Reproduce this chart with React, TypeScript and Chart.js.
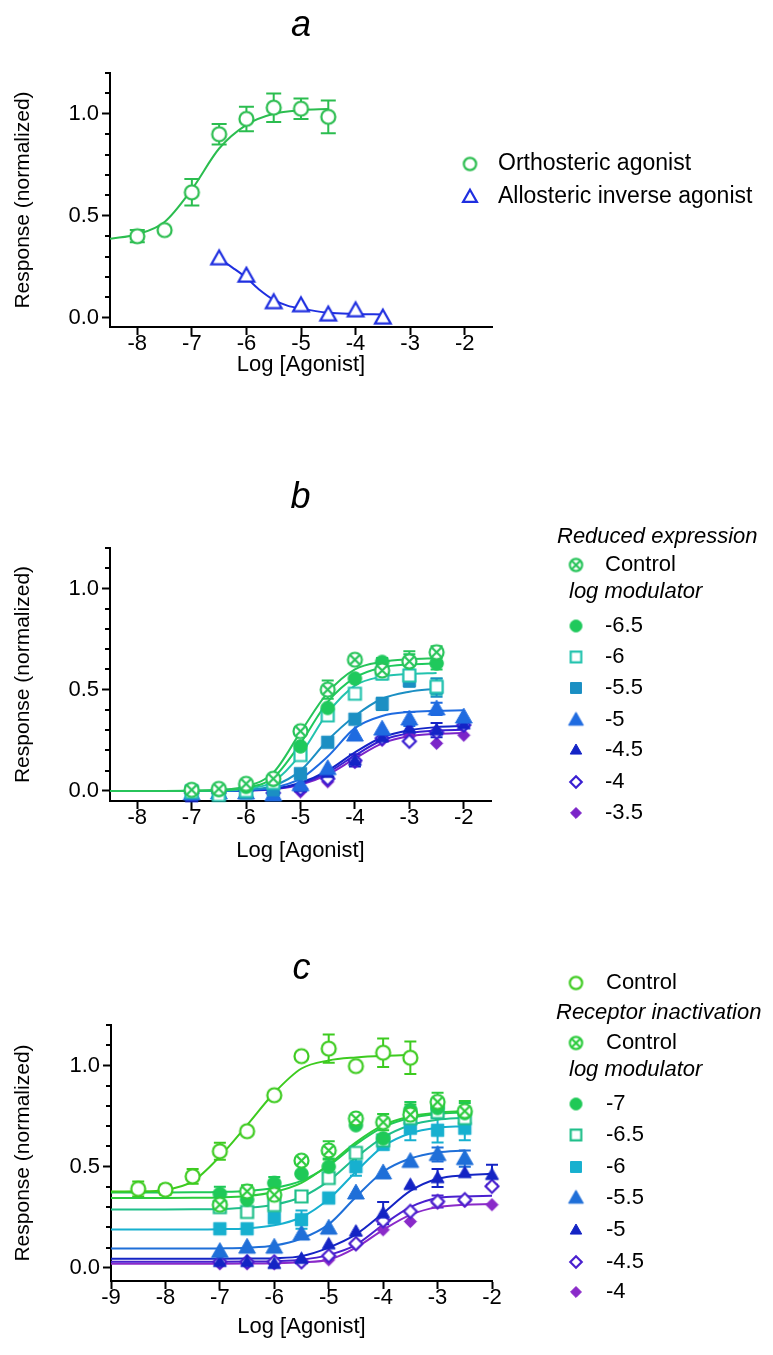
import React, { useEffect, useRef } from 'react';
import { Chart, registerables } from 'chart.js';

Chart.register(...registerables);

const FONT = "'Liberation Sans', Arial, Helvetica, sans-serif";
const W = 773;

// ---------------- Panel a data ----------------
const A_ORTHO_X = [-8, -7.5, -7, -6.5, -6, -5.5, -5, -4.5];
const A_ORTHO_Y = [0.40, 0.43, 0.615, 0.90, 0.975, 1.03, 1.025, 0.985];
const A_ORTHO_ERR = [0.03, 0, 0.065, 0.05, 0.06, 0.07, 0.05, 0.08];
const A_ORTHO_FIT_X = [-8.5, -8, -7.5, -7, -6.5, -6, -5.5, -5, -4.5];
const A_ORTHO_FIT_Y = [0.387, 0.41, 0.47, 0.63, 0.83, 0.946, 1.0, 1.018, 1.023];
const A_ALLO_X = [-6.5, -6, -5.5, -5, -4.5, -4, -3.5];
const A_ALLO_Y = [0.29, 0.205, 0.075, 0.06, 0.015, 0.035, 0.0];
const A_ALLO_FIT_X = [-6.5, -6.25, -6, -5.75, -5.5, -5.25, -5, -4.5, -4, -3.5];
const A_ALLO_FIT_Y = [0.29, 0.245, 0.196, 0.135, 0.088, 0.06, 0.045, 0.025, 0.019, 0.016];

// ---------------- Panel b data ----------------
const B_X = [-7, -6.5, -6, -5.5, -5, -4.5, -4, -3.5, -3, -2.5];
const B_X_LONG = [-7, -6.5, -6, -5.5, -5, -4.5, -4, -3.5, -3, -2.5, -2];
const B_FIT_X = [-8.5, -8, -7.5, -7, -6.5, -6, -5.5, -5, -4.5, -4, -3.5, -3, -2.5];
const B_FIT_X_LONG = [-8.5, -8, -7.5, -7, -6.5, -6, -5.5, -5, -4.5, -4, -3.5, -3, -2.5, -2];

const B_CTRL_Y = [0.005, 0.01, 0.035, 0.06, 0.295, 0.50, 0.648, 0.595, 0.64, 0.685];
const B_CTRL_ERR = [0, 0, 0, 0, 0.02, 0.045, 0, 0.03, 0.05, 0.03];
const B_CTRL_FIT = [0, 0, 0, 0.001, 0.005, 0.022, 0.09, 0.29, 0.485, 0.60, 0.637, 0.65, 0.655];

const B_M65_Y = [0.005, 0.005, 0.02, 0.055, 0.22, 0.41, 0.555, 0.637, 0.635, 0.63];
const B_M65_ERR = [0, 0, 0, 0, 0, 0, 0, 0.02, 0.04, 0.03];
const B_M65_FIT = [0, 0, 0, 0.001, 0.003, 0.015, 0.065, 0.235, 0.44, 0.56, 0.61, 0.625, 0.63];

const B_M6_Y = [-0.005, -0.02, 0.0, 0.04, 0.177, 0.373, 0.48, 0.58, 0.57, 0.515];
const B_M6_ERR = [0, 0, 0, 0, 0, 0, 0, 0.03, 0.03, 0.04];
const B_M6_FIT = [0, 0, 0, 0, 0.002, 0.01, 0.045, 0.18, 0.385, 0.52, 0.565, 0.578, 0.583];

const B_M55_Y = [0.0, -0.015, -0.01, 0.005, 0.085, 0.24, 0.354, 0.43, 0.545, 0.51];
const B_M55_ERR = [0, 0, 0, 0, 0, 0, 0, 0.03, 0.03, 0.045];
const B_M55_FIT = [0, 0, 0, 0, 0.001, 0.006, 0.025, 0.10, 0.25, 0.37, 0.455, 0.49, 0.505];

const B_M5_Y = [-0.015, -0.01, -0.01, -0.02, 0.03, 0.11, 0.276, 0.305, 0.355, 0.405, 0.365];
const B_M5_ERR = [0, 0, 0, 0, 0, 0, 0, 0, 0.035, 0.03, 0];
const B_M5_FIT = [0, 0, 0, 0, 0, 0.003, 0.015, 0.06, 0.17, 0.31, 0.37, 0.39, 0.396, 0.398];

const B_M45_Y = [-0.03, -0.01, 0.0, -0.02, 0.02, 0.09, 0.15, 0.265, 0.31, 0.30, 0.33];
const B_M45_ERR = [0, 0, 0, 0, 0, 0, 0.03, 0, 0.03, 0.035, 0];
const B_M45_FIT = [0, 0, 0, 0, 0, 0.002, 0.01, 0.04, 0.10, 0.19, 0.265, 0.30, 0.315, 0.32];

const B_M4_Y = [-0.01, -0.01, 0.0, -0.01, 0.01, 0.06, 0.15, 0.26, 0.245, 0.29, 0.325];
const B_M4_FIT = [0, 0, 0, 0, 0, 0.002, 0.009, 0.035, 0.09, 0.175, 0.25, 0.285, 0.298, 0.302];

const B_M35_Y = [-0.01, -0.01, -0.005, -0.01, -0.005, 0.045, 0.14, 0.25, 0.27, 0.235, 0.275];
const B_M35_FIT = [0, 0, 0, 0, 0, 0.002, 0.008, 0.03, 0.08, 0.16, 0.235, 0.27, 0.282, 0.286];

// ---------------- Panel c data ----------------
const C_CTRL_X = [-8.5, -8, -7.5, -7, -6.5, -6, -5.5, -5, -4.5, -4, -3.5];
const C_CTRL_Y = [0.39, 0.386, 0.452, 0.576, 0.675, 0.853, 1.046, 1.083, 0.997, 1.063, 1.038];
const C_CTRL_ERR = [0.037, 0.025, 0.037, 0.042, 0, 0, 0, 0.07, 0, 0.07, 0.08];
const C_CTRL_FIT_X = [-9, -8.5, -8, -7.5, -7, -6.5, -6, -5.5, -5, -4.5, -4, -3.5];
const C_CTRL_FIT = [0.377, 0.378, 0.385, 0.427, 0.55, 0.705, 0.865, 0.985, 1.025, 1.04, 1.048, 1.052];

const C_X = [-7, -6.5, -6, -5.5, -5, -4.5, -4, -3.5, -3, -2.5];
const C_X_LONG = [-7, -6.5, -6, -5.5, -5, -4.5, -4, -3.5, -3, -2.5, -2];
const C_FIT_X = [-9, -8.5, -8, -7.5, -7, -6.5, -6, -5.5, -5, -4.5, -4, -3.5, -3, -2.5];
const C_FIT_X_LONG = [-9, -8.5, -8, -7.5, -7, -6.5, -6, -5.5, -5, -4.5, -4, -3.5, -3, -2.5, -2];

const C_RI_Y = [0.312, 0.378, 0.361, 0.53, 0.58, 0.738, 0.72, 0.757, 0.82, 0.775];
const C_RI_ERR = [0, 0.03, 0.03, 0, 0.045, 0, 0.04, 0.05, 0.045, 0.05];
const C_RI_FIT = [0.345, 0.345, 0.345, 0.346, 0.348, 0.355, 0.375, 0.42, 0.51, 0.62, 0.705, 0.748, 0.767, 0.775];

const C_M7_Y = [0.366, 0.337, 0.419, 0.465, 0.50, 0.705, 0.64, 0.78, 0.79, 0.765];
const C_M7_ERR = [0.035, 0, 0.03, 0, 0.04, 0, 0, 0.04, 0, 0.05];
const C_M7_FIT = [0.372, 0.372, 0.372, 0.373, 0.375, 0.38, 0.395, 0.43, 0.505, 0.61, 0.695, 0.74, 0.76, 0.768];

const C_M65_Y = [0.30, 0.276, 0.31, 0.353, 0.444, 0.568, 0.63, 0.74, 0.77, 0.74];
const C_M65_ERR = [0, 0, 0, 0, 0, 0, 0, 0.03, 0.03, 0.03];
const C_M65_FIT = [0.288, 0.288, 0.288, 0.289, 0.291, 0.297, 0.312, 0.35, 0.43, 0.545, 0.645, 0.705, 0.732, 0.742];

const C_M6_Y = [0.193, 0.193, 0.246, 0.238, 0.345, 0.50, 0.61, 0.69, 0.68, 0.69];
const C_M6_ERR = [0, 0, 0, 0.045, 0, 0.045, 0, 0.06, 0.06, 0.06];
const C_M6_FIT = [0.19, 0.19, 0.19, 0.19, 0.191, 0.195, 0.21, 0.25, 0.34, 0.475, 0.60, 0.665, 0.692, 0.70];

const C_M55_Y = [0.081, 0.102, 0.102, 0.167, 0.196, 0.37, 0.469, 0.526, 0.56, 0.54];
const C_M55_ERR = [0, 0, 0, 0, 0, 0, 0, 0, 0.035, 0.04];
const C_M55_FIT = [0.095, 0.095, 0.095, 0.095, 0.096, 0.099, 0.11, 0.145, 0.215, 0.35, 0.475, 0.54, 0.57, 0.58];

const C_M5_Y = [0.03, 0.03, 0.02, 0.045, 0.117, 0.18, 0.27, 0.41, 0.444, 0.469, 0.46];
const C_M5_ERR = [0, 0, 0, 0, 0, 0, 0.055, 0, 0.045, 0, 0.05];
const C_M5_FIT = [0.045, 0.045, 0.045, 0.045, 0.045, 0.046, 0.048, 0.058, 0.10, 0.165, 0.27, 0.38, 0.44, 0.458, 0.465];

const C_M45_Y = [0.03, 0.03, 0.03, 0.03, 0.06, 0.12, 0.233, 0.279, 0.328, 0.337, 0.403];
const C_M45_ERR = [0, 0, 0, 0, 0, 0, 0, 0, 0.03, 0, 0];
const C_M45_FIT = [0.03, 0.03, 0.03, 0.03, 0.03, 0.031, 0.033, 0.04, 0.064, 0.114, 0.213, 0.30, 0.345, 0.353, 0.356];

const C_M4_Y = [0.02, 0.02, 0.02, 0.03, 0.04, 0.114, 0.188, 0.229, 0.32, 0.328, 0.312];
const C_M4_FIT = [0.02, 0.02, 0.02, 0.02, 0.02, 0.021, 0.023, 0.028, 0.04, 0.10, 0.188, 0.262, 0.30, 0.312, 0.315];

// ---------------- Axis ticks ----------------
const Y_TICKS = [0, 0.1, 0.2, 0.3, 0.4, 0.5, 0.6, 0.7, 0.8, 0.9, 1.0, 1.1, 1.2];
const Y_MAJOR = [0, 0.5, 1.0];
const AB_X_TICKS = [-8, -7, -6, -5, -4, -3, -2];
const C_X_TICKS = [-9, -8, -7, -6, -5, -4, -3, -2];

// ---------------- Markers ----------------
type Kind = 'circle' | 'ocross' | 'square' | 'triangle' | 'diamond';

function makeMarker(kind: Kind, h: number, color: string, filled: boolean): HTMLCanvasElement {
  const lw = filled ? 1 : 2.2;
  const S = Math.ceil(2 * h * 1.2 + 6);
  const c = document.createElement('canvas');
  c.width = S;
  c.height = S;
  const g = c.getContext('2d') as CanvasRenderingContext2D;
  const cx = S / 2;
  const cy = S / 2;
  g.lineWidth = lw;
  g.strokeStyle = color;
  g.fillStyle = filled ? color : '#ffffff';
  g.lineJoin = 'miter';
  g.beginPath();
  if (kind === 'circle' || kind === 'ocross') {
    g.arc(cx, cy, h, 0, Math.PI * 2);
  } else if (kind === 'square') {
    g.rect(cx - h, cy - h, 2 * h, 2 * h);
  } else if (kind === 'triangle') {
    g.moveTo(cx, cy - h * 1.1);
    g.lineTo(cx + h * 1.05, cy + h * 0.75);
    g.lineTo(cx - h * 1.05, cy + h * 0.75);
    g.closePath();
  } else {
    g.moveTo(cx, cy - h);
    g.lineTo(cx + h, cy);
    g.lineTo(cx, cy + h);
    g.lineTo(cx - h, cy);
    g.closePath();
  }
  g.fill();
  g.stroke();
  if (kind === 'ocross') {
    const d = h * 0.62;
    g.beginPath();
    g.moveTo(cx - d, cy - d);
    g.lineTo(cx + d, cy + d);
    g.moveTo(cx + d, cy - d);
    g.lineTo(cx - d, cy + d);
    g.stroke();
  }
  return c;
}

interface Series {
  color: string;
  kind: Kind;
  filled: boolean;
  size: number;
  xs: number[];
  ys: number[];
  errs?: number[];
  fitX: number[];
  fitY: number[];
}

type LegendRow =
  | { type: 'header'; text: string; x: number; y: number }
  | { type: 'item'; series: number; text: string; y: number };

interface PanelCfg {
  letter: string;
  top: number;
  height: number;
  plotTop: number;
  plotBottom: number;
  plotLeft: number;
  plotRight: number;
  xMin: number;
  xMax: number;
  yMin: number;
  yMax: number;
  xTicks: number[];
  xTitleCenter: number;
  letterBaseline: number;
  cap: number;
  markerX: number;
  textX: number;
  legendFont: number;
  series: Series[];
  legend: LegendRow[];
}

const PANEL_A: PanelCfg = {
  letter: 'a', top: 0, height: 440,
  plotTop: 73, plotBottom: 327, plotLeft: 110, plotRight: 492,
  xMin: -8.5, xMax: -1.5, yMin: -0.045, yMax: 1.2, xTicks: AB_X_TICKS,
  xTitleCenter: 365, letterBaseline: 36, cap: 15, markerX: 470, textX: 498, legendFont: 23,
  series: [
    { color: '#2bbd4f', kind: 'circle', filled: false, size: 7, xs: A_ORTHO_X, ys: A_ORTHO_Y, errs: A_ORTHO_ERR, fitX: A_ORTHO_FIT_X, fitY: A_ORTHO_FIT_Y },
    { color: '#1f2fe0', kind: 'triangle', filled: false, size: 7.5, xs: A_ALLO_X, ys: A_ALLO_Y, fitX: A_ALLO_FIT_X, fitY: A_ALLO_FIT_Y },
  ],
  legend: [
    { type: 'item', series: 0, text: 'Orthosteric agonist', y: 164 },
    { type: 'item', series: 1, text: 'Allosteric inverse agonist', y: 197 },
  ],
};

const PANEL_B: PanelCfg = {
  letter: 'b', top: 440, height: 450,
  plotTop: 108, plotBottom: 361, plotLeft: 110, plotRight: 491,
  xMin: -8.5, xMax: -1.5, yMin: -0.05, yMax: 1.2, xTicks: AB_X_TICKS,
  xTitleCenter: 411, letterBaseline: 68, cap: 12, markerX: 576, textX: 605, legendFont: 22,
  series: [
    { color: '#27c45a', kind: 'ocross', filled: false, size: 7, xs: B_X, ys: B_CTRL_Y, errs: B_CTRL_ERR, fitX: B_FIT_X, fitY: B_CTRL_FIT },
    { color: '#1fc95c', kind: 'circle', filled: true, size: 6.8, xs: B_X, ys: B_M65_Y, errs: B_M65_ERR, fitX: B_FIT_X, fitY: B_M65_FIT },
    { color: '#23c3ae', kind: 'square', filled: false, size: 6, xs: B_X, ys: B_M6_Y, errs: B_M6_ERR, fitX: B_FIT_X, fitY: B_M6_FIT },
    { color: '#1b8fc3', kind: 'square', filled: true, size: 6.2, xs: B_X, ys: B_M55_Y, errs: B_M55_ERR, fitX: B_FIT_X, fitY: B_M55_FIT },
    { color: '#1f6be0', kind: 'triangle', filled: true, size: 8, xs: B_X_LONG, ys: B_M5_Y, errs: B_M5_ERR, fitX: B_FIT_X_LONG, fitY: B_M5_FIT },
    { color: '#1424c6', kind: 'triangle', filled: true, size: 6.2, xs: B_X_LONG, ys: B_M45_Y, errs: B_M45_ERR, fitX: B_FIT_X_LONG, fitY: B_M45_FIT },
    { color: '#3a1fd2', kind: 'diamond', filled: false, size: 6.5, xs: B_X_LONG, ys: B_M4_Y, fitX: B_FIT_X_LONG, fitY: B_M4_FIT },
    { color: '#7b24c8', kind: 'diamond', filled: true, size: 6.2, xs: B_X_LONG, ys: B_M35_Y, fitX: B_FIT_X_LONG, fitY: B_M35_FIT },
  ],
  legend: [
    { type: 'header', text: 'Reduced expression', x: 557, y: 97 },
    { type: 'item', series: 0, text: 'Control', y: 125 },
    { type: 'header', text: 'log modulator', x: 569, y: 152 },
    { type: 'item', series: 1, text: '-6.5', y: 186 },
    { type: 'item', series: 2, text: '-6', y: 217 },
    { type: 'item', series: 3, text: '-5.5', y: 248 },
    { type: 'item', series: 4, text: '-5', y: 280 },
    { type: 'item', series: 5, text: '-4.5', y: 310 },
    { type: 'item', series: 6, text: '-4', y: 342 },
    { type: 'item', series: 7, text: '-3.5', y: 373 },
  ],
};

const PANEL_C: PanelCfg = {
  letter: 'c', top: 890, height: 465,
  plotTop: 135, plotBottom: 391, plotLeft: 111, plotRight: 492,
  xMin: -9, xMax: -2, yMin: -0.065, yMax: 1.2, xTicks: C_X_TICKS,
  xTitleCenter: 437, letterBaseline: 89, cap: 12, markerX: 576, textX: 606, legendFont: 22,
  series: [
    { color: '#3dcb1f', kind: 'circle', filled: false, size: 7, xs: C_CTRL_X, ys: C_CTRL_Y, errs: C_CTRL_ERR, fitX: C_CTRL_FIT_X, fitY: C_CTRL_FIT },
    { color: '#2ccb3c', kind: 'ocross', filled: false, size: 7, xs: C_X, ys: C_RI_Y, errs: C_RI_ERR, fitX: C_FIT_X, fitY: C_RI_FIT },
    { color: '#1fc957', kind: 'circle', filled: true, size: 6.8, xs: C_X, ys: C_M7_Y, errs: C_M7_ERR, fitX: C_FIT_X, fitY: C_M7_FIT },
    { color: '#1fbf8a', kind: 'square', filled: false, size: 6, xs: C_X, ys: C_M65_Y, errs: C_M65_ERR, fitX: C_FIT_X, fitY: C_M65_FIT },
    { color: '#17b0cf', kind: 'square', filled: true, size: 6.2, xs: C_X, ys: C_M6_Y, errs: C_M6_ERR, fitX: C_FIT_X, fitY: C_M6_FIT },
    { color: '#1f6fd8', kind: 'triangle', filled: true, size: 8, xs: C_X, ys: C_M55_Y, errs: C_M55_ERR, fitX: C_FIT_X, fitY: C_M55_FIT },
    { color: '#1424c4', kind: 'triangle', filled: true, size: 6.2, xs: C_X_LONG, ys: C_M5_Y, errs: C_M5_ERR, fitX: C_FIT_X_LONG, fitY: C_M5_FIT },
    { color: '#4a20cf', kind: 'diamond', filled: false, size: 6.5, xs: C_X_LONG, ys: C_M45_Y, errs: C_M45_ERR, fitX: C_FIT_X_LONG, fitY: C_M45_FIT },
    { color: '#8a2ac9', kind: 'diamond', filled: true, size: 6.2, xs: C_X_LONG, ys: C_M4_Y, fitX: C_FIT_X_LONG, fitY: C_M4_FIT },
  ],
  legend: [
    { type: 'item', series: 0, text: 'Control', y: 93 },
    { type: 'header', text: 'Receptor inactivation', x: 556, y: 123 },
    { type: 'item', series: 1, text: 'Control', y: 153 },
    { type: 'header', text: 'log modulator', x: 569, y: 180 },
    { type: 'item', series: 2, text: '-7', y: 214 },
    { type: 'item', series: 3, text: '-6.5', y: 245 },
    { type: 'item', series: 4, text: '-6', y: 277 },
    { type: 'item', series: 5, text: '-5.5', y: 308 },
    { type: 'item', series: 6, text: '-5', y: 340 },
    { type: 'item', series: 7, text: '-4.5', y: 372 },
    { type: 'item', series: 8, text: '-4', y: 402 },
  ],
};

const LEGEND_MARKER_SCALE = 0.88;

const isMajor = (v: number) => Y_MAJOR.some((m) => Math.abs(m - v) < 1e-9);

function toPts(xs: number[], ys: number[]) {
  return xs.map((x, i) => ({ x, y: ys[i] }));
}

function Panel({ cfg }: { cfg: PanelCfg }) {
  const ref = useRef<HTMLCanvasElement | null>(null);

  useEffect(() => {
    const canvas = ref.current;
    if (!canvas) return;
    const markers = cfg.series.map((s) => makeMarker(s.kind, s.size, s.color, s.filled));
    const legendMarkers = cfg.series.map((s) => makeMarker(s.kind, s.size * LEGEND_MARKER_SCALE, s.color, s.filled));

    const datasets: any[] = [];
    cfg.series.forEach((s, i) => {
      datasets.push({
        data: toPts(s.xs, s.ys),
        showLine: false,
        pointStyle: markers[i],
        pointRadius: s.size,
        borderColor: s.color,
        backgroundColor: s.color,
        order: i,
        clip: false,
        errs: s.errs,
        errColor: s.color,
      });
    });
    cfg.series.forEach((s, i) => {
      datasets.push({
        data: toPts(s.fitX, s.fitY),
        showLine: true,
        pointRadius: 0,
        borderColor: s.color,
        borderWidth: 2,
        fill: false,
        cubicInterpolationMode: 'monotone',
        order: 100 + i,
      });
    });

    const decor = {
      id: 'decor',
      beforeDatasetsDraw(chart: any) {
        const ctx = chart.ctx as CanvasRenderingContext2D;
        const ys = chart.scales.y;
        ctx.save();
        chart.data.datasets.forEach((ds: any, di: number) => {
          if (!ds.errs) return;
          const meta = chart.getDatasetMeta(di);
          ctx.strokeStyle = ds.errColor;
          ctx.lineWidth = 2;
          meta.data.forEach((el: any, i: number) => {
            const e = ds.errs[i];
            if (!e) return;
            const v = ds.data[i].y;
            const x = el.x;
            const y1 = ys.getPixelForValue(v + e);
            const y2 = ys.getPixelForValue(v - e);
            const hc = cfg.cap / 2;
            ctx.beginPath();
            ctx.moveTo(x, y1);
            ctx.lineTo(x, y2);
            ctx.moveTo(x - hc, y1);
            ctx.lineTo(x + hc, y1);
            ctx.moveTo(x - hc, y2);
            ctx.lineTo(x + hc, y2);
            ctx.stroke();
          });
        });
        ctx.restore();
      },
      afterDraw(chart: any) {
        const ctx = chart.ctx as CanvasRenderingContext2D;
        const ys = chart.scales.y;
        const area = chart.chartArea;
        ctx.save();
        ctx.strokeStyle = '#000';
        ctx.lineWidth = 2;
        Y_TICKS.filter((v) => !isMajor(v)).forEach((v) => {
          const py = Math.round(ys.getPixelForValue(v));
          ctx.beginPath();
          ctx.moveTo(area.left - 5, py);
          ctx.lineTo(area.left, py);
          ctx.stroke();
        });
        ctx.fillStyle = '#000';
        ctx.font = `italic 36px ${FONT}`;
        ctx.textAlign = 'center';
        ctx.textBaseline = 'alphabetic';
        ctx.fillText(cfg.letter, (area.left + area.right) / 2, cfg.letterBaseline);
        ctx.textAlign = 'left';
        ctx.textBaseline = 'middle';
        cfg.legend.forEach((row) => {
          if (row.type === 'header') {
            ctx.font = `italic ${cfg.legendFont}px ${FONT}`;
            ctx.fillText(row.text, row.x, row.y);
          } else {
            const m = legendMarkers[row.series];
            ctx.drawImage(m, cfg.markerX - m.width / 2, row.y - m.height / 2);
            ctx.font = `${cfg.legendFont}px ${FONT}`;
            ctx.fillText(row.text, cfg.textX, row.y);
          }
        });
        ctx.restore();
      },
    };

    const chart = new Chart(canvas, {
      type: 'line',
      data: { datasets },
      options: {
        responsive: false,
        animation: false,
        devicePixelRatio: 1,
        events: [],
        layout: { padding: { left: 0, right: W - cfg.plotRight, top: cfg.plotTop, bottom: 0 } },
        plugins: {
          legend: { display: false },
          tooltip: { enabled: false },
          title: { display: false },
        },
        scales: {
          x: {
            type: 'linear',
            min: cfg.xMin,
            max: cfg.xMax,
            afterBuildTicks: (s: any) => {
              s.ticks = cfg.xTicks.map((v) => ({ value: v }));
            },
            afterFit: (s: any) => {
              s.height = cfg.height - cfg.plotBottom;
            },
            grid: { drawOnChartArea: false, drawTicks: true, tickLength: 8, tickWidth: 2, tickColor: '#000' },
            border: { display: true, color: '#000', width: 2 },
            ticks: {
              color: '#000',
              font: { family: FONT, size: 22, lineHeight: 1 },
              padding: -2,
              maxRotation: 0,
              autoSkip: false,
              callback: (v: any) => String(v),
            },
            title: {
              display: true,
              text: 'Log [Agonist]',
              color: '#000',
              font: { family: FONT, size: 22, lineHeight: 1.2 },
              padding: { top: 0, bottom: cfg.height - cfg.xTitleCenter - 13.2 },
            },
          },
          y: {
            type: 'linear',
            min: cfg.yMin,
            max: cfg.yMax,
            afterBuildTicks: (s: any) => {
              s.ticks = Y_TICKS.map((v) => ({ value: v }));
            },
            afterFit: (s: any) => {
              s.width = cfg.plotLeft;
            },
            grid: {
              drawOnChartArea: false,
              drawTicks: true,
              tickLength: 8,
              tickWidth: 2,
              tickColor: (c: any) => (c.tick && isMajor(c.tick.value) ? '#000' : 'rgba(0,0,0,0)'),
            },
            border: { display: true, color: '#000', width: 2 },
            ticks: {
              color: '#000',
              font: { family: FONT, size: 22 },
              padding: 3,
              autoSkip: false,
              callback: (v: any) => (isMajor(Number(v)) ? Number(v).toFixed(1) : ''),
            },
            title: {
              display: true,
              text: 'Response (normalized)',
              color: '#000',
              font: { family: FONT, size: 21, lineHeight: 1.2 },
              padding: { top: 11, bottom: 0 },
            },
          },
        },
      } as any,
      plugins: [decor],
    });

    return () => {
      chart.destroy();
    };
  }, [cfg]);

  return (
    <canvas
      ref={ref}
      width={W}
      height={cfg.height}
      style={{ position: 'absolute', left: 0, top: cfg.top, width: W, height: cfg.height, display: 'block' }}
    />
  );
}

export default function App() {
  return (
    <div style={{ position: 'absolute', left: 0, top: 0, width: W, height: 1355, background: '#ffffff', overflow: 'hidden' }}>
      <Panel cfg={PANEL_A} />
      <Panel cfg={PANEL_B} />
      <Panel cfg={PANEL_C} />
    </div>
  );
}
